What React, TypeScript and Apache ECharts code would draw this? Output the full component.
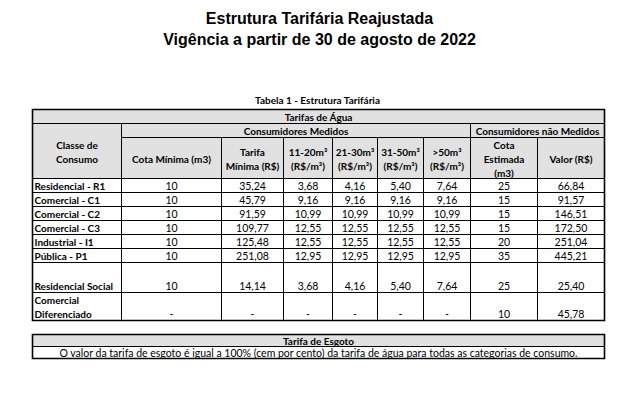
import React, { useEffect, useRef } from "react";
import * as echarts from "echarts";

// ---------- data ----------
const titleLines = ["Estrutura Tarifária Reajustada", "Vigência a partir de 30 de agosto de 2022"];
const tableCaption = "Tabela 1 - Estrutura Tarifária";
const waterGroup = "Tarifas de Água";
const measuredGroup = "Consumidores Medidos";
const unmeasuredGroup = "Consumidores não Medidos";
const columnHeaders = [
  "Classe de\nConsumo",
  "Cota Mínima (m3)",
  "Tarifa\nMínima (R$)",
  "11-20m³\n(R$/m³)",
  "21-30m³\n(R$/m³)",
  "31-50m³\n(R$/m³)",
  ">50m³\n(R$/m³)",
  "Cota\nEstimada\n(m3)",
  "Valor (R$)",
];
const categories = [
  "Residencial - R1",
  "Comercial - C1",
  "Comercial - C2",
  "Comercial - C3",
  "Industrial - I1",
  "Pública - P1",
  "Residencial Social",
  "Comercial\nDiferenciado",
];
const cotaMinima = [10, 10, 10, 10, 10, 10, 10, null];
const tarifaMinima = [35.24, 45.79, 91.59, 109.77, 125.48, 251.08, 14.14, null];
const faixa11a20 = [3.68, 9.16, 10.99, 12.55, 12.55, 12.95, 3.68, null];
const faixa21a30 = [4.16, 9.16, 10.99, 12.55, 12.55, 12.95, 4.16, null];
const faixa31a50 = [5.4, 9.16, 10.99, 12.55, 12.55, 12.95, 5.4, null];
const faixaAcima50 = [7.64, 9.16, 10.99, 12.55, 12.55, 12.95, 7.64, null];
const cotaEstimada = [25, 15, 15, 15, 20, 35, 25, 10];
const valorNaoMedido = [66.84, 91.57, 146.51, 172.5, 251.04, 445.21, 25.4, 45.78];
const sewerTitle = "Tarifa de Esgoto";
const sewerNote =
  "O valor da tarifa de esgoto é igual a 100% (cem por cento) da tarifa de água para todas as categorias de consumo.";

// ---------- layout ----------
const COL_X = [32.5, 121.5, 221.5, 283.5, 332.5, 377.5, 423.5, 470.5, 537.5, 604.5];
const HEAD_Y = [109.5, 123.5, 137.5, 178.5];
const ROW_Y = [178.5, 192.5, 206.5, 220.5, 234.5, 248.5, 262.5, 292.5, 320.5];
const SEWER_Y = [334.5, 346.5, 358.5];
const GRAY = "#e1e1e1";
const FONT = "Lato";
const FS_BOLD = 10;
const FS_REG = 10.5;

type Cell = {
  x0: number; x1: number; y0: number; y1: number;
  text: string; bold: boolean; fill: string;
  align: "left" | "center"; valign: "middle" | "bottom";
  frame?: boolean;
};

const fmt = (v: number | null, dec: number) =>
  v == null ? "-" : v.toFixed(dec).replace(".", ",");

function buildCells(): Cell[] {
  const cells: Cell[] = [];
  const head = (c0: number, c1: number, r0: number, r1: number, text: string) =>
    cells.push({
      x0: COL_X[c0], x1: COL_X[c1], y0: HEAD_Y[r0], y1: HEAD_Y[r1],
      text, bold: true, fill: GRAY, align: "center", valign: "middle",
    });
  head(0, 9, 0, 1, waterGroup);
  head(0, 1, 1, 3, columnHeaders[0]);
  head(1, 7, 1, 2, measuredGroup);
  head(7, 9, 1, 2, unmeasuredGroup);
  for (let c = 1; c < 9; c++) head(c, c + 1, 2, 3, columnHeaders[c]);

  const cols: string[][] = [
    categories,
    cotaMinima.map((v) => fmt(v, 0)),
    tarifaMinima.map((v) => fmt(v, 2)),
    faixa11a20.map((v) => fmt(v, 2)),
    faixa21a30.map((v) => fmt(v, 2)),
    faixa31a50.map((v) => fmt(v, 2)),
    faixaAcima50.map((v) => fmt(v, 2)),
    cotaEstimada.map((v) => fmt(v, 0)),
    valorNaoMedido.map((v) => fmt(v, 2)),
  ];
  for (let r = 0; r < categories.length; r++) {
    for (let c = 0; c < cols.length; c++) {
      cells.push({
        x0: COL_X[c], x1: COL_X[c + 1], y0: ROW_Y[r], y1: ROW_Y[r + 1],
        text: cols[c][r], bold: c === 0, fill: "#ffffff",
        align: c === 0 ? "left" : "center", valign: "bottom",
      });
    }
  }
  const L = COL_X[0];
  const R = COL_X[COL_X.length - 1];
  cells.push({ x0: L, x1: R, y0: SEWER_Y[0], y1: SEWER_Y[1], text: sewerTitle, bold: true, fill: GRAY, align: "center", valign: "middle" });
  cells.push({ x0: L, x1: R, y0: SEWER_Y[1], y1: SEWER_Y[2], text: sewerNote, bold: false, fill: "#ffffff", align: "center", valign: "middle" });
  // outer frames
  cells.push({ x0: L, x1: R, y0: HEAD_Y[0], y1: ROW_Y[ROW_Y.length - 1], text: "", bold: false, fill: "none", align: "center", valign: "middle", frame: true });
  cells.push({ x0: L, x1: R, y0: SEWER_Y[0], y1: SEWER_Y[2], text: "", bold: false, fill: "none", align: "center", valign: "middle", frame: true });
  return cells;
}

export default function App() {
  const ref = useRef<HTMLDivElement>(null);
  useEffect(() => {
    if (!ref.current) return;
    const chart = echarts.init(ref.current, undefined, { renderer: "svg" });
    const cells = buildCells();
    chart.setOption({
      animation: false,
      backgroundColor: "#ffffff",
      grid: { left: 0, right: 0, top: 0, bottom: 0 },
      xAxis: { type: "value", min: 0, max: 635, show: false },
      yAxis: { type: "value", min: 0, max: 413, inverse: true, show: false },
      graphic: [
        {
          type: "text",
          x: 319.5,
          y: 8,
          style: {
            text: titleLines.join("\n"),
            align: "center",
            verticalAlign: "top",
            fontFamily: "Liberation Sans",
            fontSize: 16,
            fontWeight: "bold",
            lineHeight: 21,
            fill: "#000",
          },
        },
        {
          type: "text",
          x: 317.5,
          y: 94,
          style: {
            text: tableCaption,
            align: "center",
            verticalAlign: "top",
            fontFamily: FONT,
            fontSize: FS_BOLD,
            fontWeight: "bold",
            lineHeight: 12,
            fill: "#000",
          },
        },
      ],
      series: [
        {
          type: "custom",
          coordinateSystem: "cartesian2d",
          silent: true,
          clip: false,
          data: cells.map((c) => [c.x0, c.y0]),
          renderItem: (params: any, api: any) => {
            const c = cells[params.dataIndex];
            const p0 = api.coord([c.x0, c.y0]);
            const p1 = api.coord([c.x1, c.y1]);
            const w = p1[0] - p0[0];
            const h = p1[1] - p0[1];
            if (c.frame) {
              return {
                type: "rect",
                shape: { x: p0[0], y: p0[1], width: w, height: h },
                style: { fill: "none", stroke: "#000", lineWidth: 1.6 },
              };
            }
            const tx = c.align === "left" ? p0[0] + 2 : p0[0] + w / 2;
            const ty = c.valign === "middle" ? p0[1] + h / 2 + 0.5 : p1[1] + 0.5;
            return {
              type: "group",
              children: [
                {
                  type: "rect",
                  shape: { x: p0[0], y: p0[1], width: w, height: h },
                  style: { fill: c.fill, stroke: "#000", lineWidth: 1 },
                },
                {
                  type: "text",
                  x: tx,
                  y: ty,
                  style: {
                    text: c.text,
                    align: c.align,
                    verticalAlign: c.valign,
                    fontFamily: FONT,
                    fontSize: c.bold ? FS_BOLD : FS_REG,
                    fontWeight: c.bold ? "bold" : "normal",
                    lineHeight: 14,
                    fill: "#000",
                  },
                },
              ],
            };
          },
        },
      ],
    });
    return () => chart.dispose();
  }, []);
  return (
    <div
      ref={ref}
      style={{ position: "fixed", left: 0, top: 0, width: 635, height: 413, background: "#fff" }}
    />
  );
}
